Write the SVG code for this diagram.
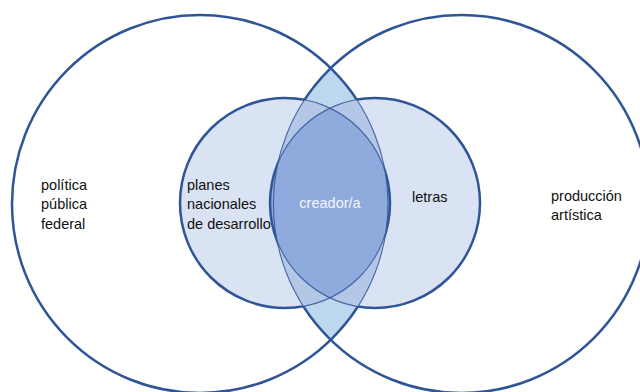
<svg xmlns="http://www.w3.org/2000/svg" width="640" height="392" viewBox="0 0 640 392">
<style>
.lbl{font-family:"Liberation Sans",Arial,sans-serif;font-size:14.5px;fill:#111}
.wht{font-family:"Liberation Sans",Arial,sans-serif;font-size:14.5px;fill:#f2f5fb}
.thick{fill:none;stroke:#2f5597;stroke-width:2.5}
.thin{fill:none;stroke:#2f5597;stroke-width:1.1;stroke-opacity:0.85}
</style>
<defs>
<clipPath id="clipL"><ellipse cx="200" cy="204" rx="188" ry="189"/></clipPath>
<clipPath id="lens" clip-path="url(#clipL)"><ellipse cx="461.4" cy="204" rx="188" ry="189"/></clipPath>
<clipPath id="clipSL"><circle cx="285" cy="203" r="105"/></clipPath>
<clipPath id="smallU"><circle cx="285" cy="203" r="105"/><circle cx="375" cy="203" r="105"/></clipPath>
<mask id="notSmall" maskUnits="userSpaceOnUse" x="0" y="0" width="640" height="392">
<rect x="0" y="0" width="640" height="392" fill="#fff"/>
<circle cx="285" cy="203" r="105" fill="#000"/>
<circle cx="375" cy="203" r="105" fill="#000"/>
</mask>
<mask id="notLens" maskUnits="userSpaceOnUse" x="0" y="0" width="640" height="392">
<rect x="0" y="0" width="640" height="392" fill="#fff"/>
<rect x="0" y="0" width="640" height="392" fill="#000" clip-path="url(#lens)"/>
</mask>
</defs>
<rect x="0" y="0" width="640" height="392" fill="#fff"/>

<g id="fills">
<rect x="0" y="0" width="640" height="392" fill="#bdd7ee" clip-path="url(#lens)"/>
<circle cx="285" cy="203" r="105" fill="#dae3f3"/>
<circle cx="375" cy="203" r="105" fill="#dae3f3"/>
<g clip-path="url(#lens)">
<circle cx="285" cy="203" r="105" fill="#b4c7e7"/>
<circle cx="375" cy="203" r="105" fill="#b4c7e7"/>
</g>
<circle cx="375" cy="203" r="105" fill="#8faadc" clip-path="url(#clipSL)"/>
</g>

<g id="politica-publica-federal">
<g mask="url(#notSmall)"><ellipse class="thick" cx="200" cy="204" rx="188" ry="189"/></g>
<g clip-path="url(#smallU)"><ellipse class="thin" cx="200" cy="204" rx="188" ry="189"/></g>
<text class="lbl" x="41" y="190">política</text>
<text class="lbl" x="41" y="209">pública</text>
<text class="lbl" x="41" y="229">federal</text>
</g>

<g id="produccion-artistica">
<g mask="url(#notSmall)"><ellipse class="thick" cx="461.4" cy="204" rx="188" ry="189"/></g>
<g clip-path="url(#smallU)"><ellipse class="thin" cx="461.4" cy="204" rx="188" ry="189"/></g>
<text class="lbl" x="551" y="201">producción</text>
<text class="lbl" x="551" y="220">artística</text>
</g>

<g id="planes-nacionales">
<g mask="url(#notLens)"><circle class="thick" cx="285" cy="203" r="105"/></g>
<g clip-path="url(#lens)"><circle class="thin" cx="285" cy="203" r="105"/></g>
<text class="lbl" x="187" y="190">planes</text>
<text class="lbl" x="187" y="209">nacionales</text>
<text class="lbl" x="187" y="229">de desarrollo</text>
</g>

<g id="letras">
<g mask="url(#notLens)"><circle class="thick" cx="375" cy="203" r="105"/></g>
<g clip-path="url(#lens)"><circle class="thin" cx="375" cy="203" r="105"/></g>
<text class="lbl" x="412" y="202">letras</text>
</g>

<g id="creador">
<text class="wht" x="330" y="208" text-anchor="middle">creador/a</text>
</g>
</svg>
